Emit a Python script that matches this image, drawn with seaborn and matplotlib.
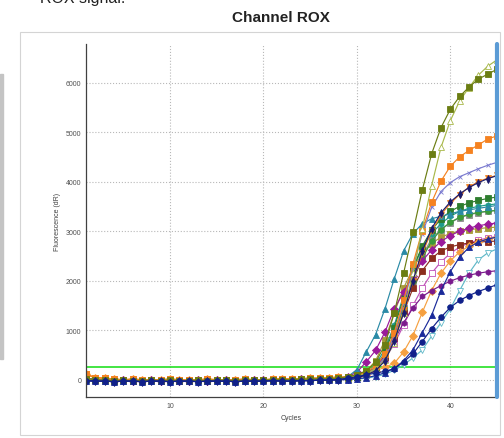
import matplotlib
matplotlib.use('Agg')
import matplotlib.pyplot as plt
import matplotlib.patches as patches
from matplotlib.ticker import MultipleLocator
import pandas as pd
import seaborn as sns

# Amplification data, ROX channel
cycles = list(range(1, 46))

# flat baseline part (cycles 1-28)
base_orange = [110, 40, 30, 10, 0, 10, 0, -10, 0, 10, 0, -10, 0, 10, 0, -10, 0, 10, 0, 0, 10, 20, 10, 20, 30, 30, 40, 50]
base_navy = [-20, -30, -30, -40, -30, -30, -40, -30, -30, -40, -30, -30, -40, -30, -30, -30, -40, -30, -30, -30, -20, -30, -30, -20, -20, -10, -10, 0]
base_mid = [20, 0, -10, -20, -10, -20, -20, -10, -20, -10, -20, -20, -10, -20, -10, -10, -20, -10, -10, -10, 0, 0, 0, 10, 10, 20, 20, 30]
base_low = [0, -10, -20, -20, -30, -20, -20, -30, -20, -20, -30, -20, -20, -20, -30, -20, -20, -20, -20, -10, -20, -10, -10, -10, 0, 0, 10, 10]

# rising part (cycles 29-45)
olive_sq = [60, 100, 180, 350, 700, 1350, 2150, 2980, 3830, 4560, 5090, 5460, 5720, 5910, 6070, 6170, 6270]
olive_tri = [40, 70, 120, 220, 400, 750, 1350, 2150, 3050, 3920, 4690, 5230, 5630, 5900, 6150, 6330, 6460]
orange_sq = [60, 90, 150, 280, 520, 950, 1600, 2340, 3010, 3580, 4010, 4310, 4500, 4630, 4740, 4860, 4925]
slate_x = [30, 60, 110, 220, 450, 900, 1550, 2250, 2950, 3480, 3800, 3980, 4100, 4180, 4260, 4330, 4390]
navy_dot = [20, 40, 90, 180, 380, 780, 1350, 2000, 2600, 3050, 3370, 3590, 3750, 3880, 3980, 4060, 4120]
orange_vtri = [40, 70, 120, 230, 450, 850, 1400, 2000, 2550, 3000, 3330, 3560, 3740, 3890, 4000, 4070, 4130]
green_sq = [30, 60, 120, 250, 550, 1050, 1650, 2250, 2700, 3020, 3250, 3400, 3500, 3570, 3620, 3660, 3690]
teal_hex = [30, 70, 140, 300, 620, 1100, 1700, 2250, 2650, 2950, 3150, 3300, 3400, 3460, 3500, 3530, 3550]
green_dot = [20, 50, 110, 230, 480, 900, 1450, 2000, 2450, 2800, 3030, 3180, 3280, 3340, 3380, 3400, 3420]
gray_sq = [20, 50, 100, 220, 480, 900, 1450, 2000, 2500, 2850, 3030, 3170, 3270, 3330, 3370, 3400, 3420]
purple_dia = [60, 150, 360, 590, 960, 1430, 1770, 2100, 2400, 2620, 2790, 2910, 3000, 3060, 3110, 3140, 3165]
navy_tri = [0, 20, 40, 80, 140, 230, 380, 600, 950, 1300, 1800, 2180, 2480, 2670, 2780, 2840, 2880]
red_sq = [30, 60, 110, 220, 450, 850, 1350, 1850, 2200, 2450, 2600, 2680, 2730, 2760, 2780, 2790, 2800]
teal_tri = [60, 200, 560, 910, 1430, 2040, 2600, 2950, 3150, 3250, 3300, 3350, 3400, 3430, 3460, 3490, 3520]
cyan_vtri = [0, 10, 30, 60, 110, 190, 300, 440, 600, 880, 1150, 1430, 1800, 2150, 2420, 2560, 2640]
purple_hex = [20, 50, 110, 250, 480, 800, 1150, 1450, 1680, 1800, 1900, 1990, 2060, 2110, 2150, 2180, 2200]
navy_dotbig = [30, 60, 100, 130, 170, 220, 360, 520, 770, 1030, 1260, 1460, 1600, 1700, 1780, 1850, 1920]
orange_dia = [30, 60, 100, 180, 250, 330, 560, 890, 1360, 1800, 2150, 2400, 2580, 2700, 2780, 2840, 2880]
khaki_sq = [40, 80, 170, 380, 800, 1350, 1850, 2250, 2550, 2750, 2880, 2950, 3000, 3030, 3050, 3070, 3080]
pink_sq = [30, 60, 120, 230, 420, 720, 1100, 1500, 1850, 2150, 2380, 2550, 2680, 2760, 2820, 2860, 2890]

threshold = 260

# (values, color, marker, open marker)
series = [
    (base_mid + khaki_sq, '#a89a3a', 's', False),
    (base_mid + pink_sq, '#c050b8', 's', True),
    (base_mid + gray_sq, '#8c8c8c', 's', False),
    (base_mid + red_sq, '#8b2d1e', 's', False),
    (base_orange + orange_dia, '#f5a040', 'D', False),
    (base_mid + green_dot, '#3a9a3a', 'o', False),
    (base_mid + teal_hex, '#1f9a8a', 'h', False),
    (base_mid + green_sq, '#2e7d2e', 's', False),
    (base_mid + purple_dia, '#9a1a9a', 'D', False),
    (base_low + teal_tri, '#2a8aa6', '^', False),
    (base_low + cyan_vtri, '#5fb8c8', 'v', True),
    (base_mid + purple_hex, '#7a1a8c', 'h', False),
    (base_orange + orange_vtri, '#f08020', 'v', False),
    (base_low + slate_x, '#7b7bd0', 'x', False),
    (base_orange + orange_sq, '#f58220', 's', False),
    (base_mid + olive_tri, '#a8b84a', '^', True),
    (base_mid + olive_sq, '#6b7d12', 's', False),
    (base_navy + navy_dot, '#1a1a6e', 'd', False),
    (base_navy + navy_tri, '#1a2a9a', '^', False),
    (base_navy + navy_dotbig, '#10208a', 'o', False),
]

sns.set_style('white')
plt.rcParams['font.family'] = ['Liberation Sans', 'DejaVu Sans']

fig = plt.figure(figsize=(5.04, 4.39), dpi=100)
ax = fig.add_axes([86 / 504, 1 - 398 / 439, (497 - 86) / 504, (398 - 45) / 439])

for vals, col, mk, hollow in series:
    df = pd.DataFrame({'Cycle': cycles, 'Fluorescence': vals})
    sns.lineplot(data=df, x='Cycle', y='Fluorescence', ax=ax, color=col, marker=mk,
                 markersize=4.0 if mk != 'x' else 3.4, linewidth=0.85,
                 markerfacecolor='white' if hollow else col,
                 markeredgecolor=col, markeredgewidth=0.6, legend=False)

ax.axhline(threshold, color='#22e022', lw=1.2, zorder=1)
ax.axvline(45, color='#5b9bd5', lw=3, clip_on=False, zorder=5)

ax.set_xlim(1, 45)
ax.set_ylim(-350, 6780)
ax.xaxis.set_major_locator(MultipleLocator(10))
ax.xaxis.set_minor_locator(MultipleLocator(1))
ax.yaxis.set_major_locator(MultipleLocator(1000))
ax.yaxis.set_minor_locator(MultipleLocator(500))
ax.grid(True, which='major', linestyle=':', color='#b8b8b8', linewidth=0.8)
ax.tick_params(which='both', direction='inout', color='#404040', width=0.6)
ax.tick_params(which='major', length=4, labelsize=5, labelcolor='#505050', pad=1.5)
ax.tick_params(which='minor', length=3)
ax.set_xticks([10, 20, 30, 40])
ax.set_yticks([0, 1000, 2000, 3000, 4000, 5000, 6000])

for s in ['top', 'right']:
    ax.spines[s].set_visible(False)
for s in ['left', 'bottom']:
    ax.spines[s].set_color('#404040')
    ax.spines[s].set_linewidth(0.9)

ax.set_xlabel('Cycles', fontsize=5, color='#404040', labelpad=4)
ax.set_ylabel('Fluorescence (dR)', fontsize=5, color='#404040', labelpad=3)

# screenshot frame and texts around the plot
fig.patches.append(patches.Rectangle((20 / 504, 1 - 436 / 439), 480 / 504, 403 / 439,
                                     transform=fig.transFigure, fill=False,
                                     ec='#d4d4d4', lw=0.8))
fig.patches.append(patches.Rectangle((0, 1 - 360 / 439), 3 / 504, 285 / 439,
                                     transform=fig.transFigure, color='#c4c4c4'))
fig.text(40 / 504, 1 - 3 / 439, 'ROX signal.', fontsize=11.5, ha='left', va='baseline', color='#222222')
fig.text(281 / 504, 1 - 18.5 / 439, 'Channel ROX', fontsize=11, fontweight='bold',
         ha='center', va='center', color='#222222')

fig.savefig('out.png', dpi=100)
